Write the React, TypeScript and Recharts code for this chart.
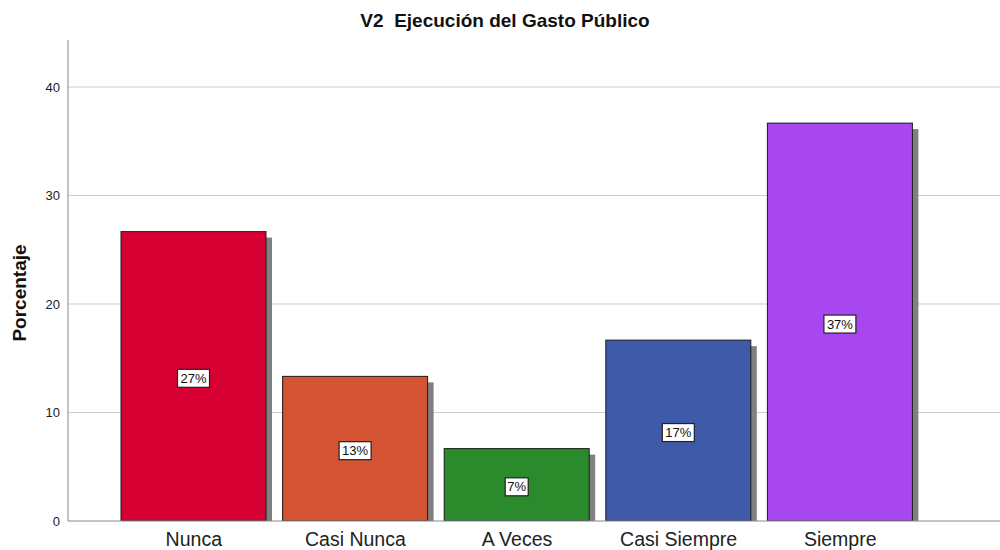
import { BarChart, Bar, XAxis, YAxis, CartesianGrid, Cell, LabelList } from "recharts";

const categories = ["Nunca", "Casi Nunca", "A Veces", "Casi Siempre", "Siempre"];
const percentages = [26.67, 13.33, 6.67, 16.67, 36.67];
const barColors = ["#d70032", "#d35333", "#2b8a2b", "#3e5aa8", "#a847f0"];
const yTicks = [0, 10, 20, 30, 40];
const gridValues = [10, 20, 30, 40];

const data = categories.map((name, i) => ({ name, value: percentages[i] }));

const FONT = "'Liberation Sans', Arial, sans-serif";

function ShadowBar(props: any) {
  const { x, y, width, height, fill } = props;
  if (!height || height <= 0) return null;
  return (
    <g>
      <rect x={x + 6} y={y + 6} width={width} height={height} fill="#808080" />
      <rect x={x} y={y} width={width} height={height} fill={fill} stroke="#1a1a1a" strokeWidth={1} />
    </g>
  );
}

function BoxLabel(props: any) {
  const { x, y, width, height, value } = props;
  const cx = x + width / 2;
  const cy = y + height / 2 + 2;
  const txt = `${Math.round(value)}%`;
  const w = txt.length * 9 + 5;
  return (
    <g>
      <rect x={cx - w / 2} y={cy - 9} width={w} height={18} fill="#fff" stroke="#222" strokeWidth={1.2} />
      <text x={cx} y={cy + 4.5} textAnchor="middle" fontSize={13} fontFamily={FONT} fill="#111">
        {txt}
      </text>
    </g>
  );
}

export default function App() {
  return (
    <div style={{ position: "absolute", left: 0, top: 0, width: 1000, height: 550, background: "#fff", fontFamily: FONT }}>
      <div style={{ position: "absolute", top: 10, left: 0, width: 1010, textAlign: "center", fontSize: 19, fontWeight: 700, color: "#111", whiteSpace: "pre" }}>
        {"V2  Ejecución del Gasto Público"}
      </div>
      <div style={{ position: "absolute", left: 20, top: 293, transform: "translate(-50%, -50%) rotate(-90deg)", fontSize: 19, fontWeight: 700, color: "#111", whiteSpace: "nowrap" }}>
        Porcentaje
      </div>
      <BarChart width={1000} height={550} data={data} margin={{ top: 40, right: 0, left: 0, bottom: 0 }} barSize={145}>
        <CartesianGrid vertical={false} stroke="#cccccc" horizontalValues={gridValues} />
        <XAxis
          dataKey="name"
          height={29}
          padding={{ left: 45, right: 79 }}
          tickLine={false}
          axisLine={{ stroke: "#888" }}
          tick={{ fill: "#222", fontSize: 19.5, fontFamily: FONT }}
          tickMargin={5}
        />
        <YAxis
          width={68}
          domain={[0, 44.33]}
          ticks={yTicks}
          allowDataOverflow
          tickLine={false}
          axisLine={{ stroke: "#888" }}
          tick={{ fill: "#222", fontSize: 13, fontFamily: FONT }}
        />
        <Bar dataKey="value" shape={ShadowBar} isAnimationActive={false}>
          {data.map((d, i) => (
            <Cell key={d.name} fill={barColors[i]} />
          ))}
          <LabelList dataKey="value" content={BoxLabel} />
        </Bar>
      </BarChart>
    </div>
  );
}
